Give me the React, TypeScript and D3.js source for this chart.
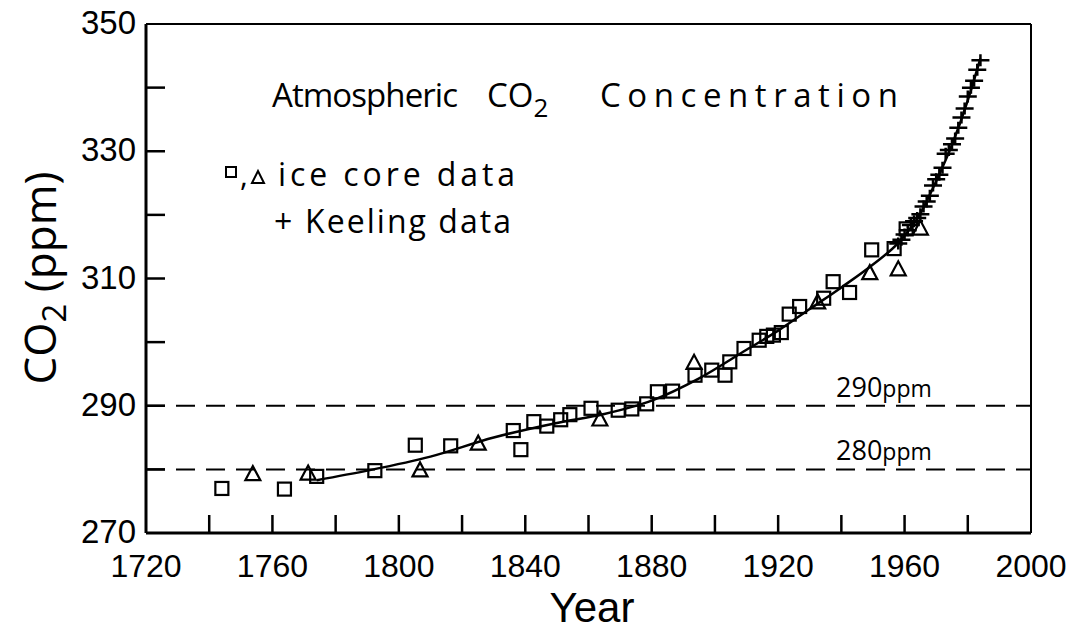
import React from "react";
import * as d3 from "d3";

const squareYears = [1744, 1763.8, 1774, 1792.4, 1805.2, 1816.4, 1836.2, 1838.6, 1842.7, 1846.8, 1851.2, 1854.1, 1860.8, 1869.4, 1873.7, 1878.4, 1881.8, 1886.6, 1893.7, 1899, 1903.2, 1904.7, 1909.2, 1914, 1916.4, 1918.5, 1921, 1923.5, 1926.8, 1934.4, 1937.4, 1942.6, 1949.6, 1956.7, 1960.5];
const squareValues = [277.0, 276.9, 278.9, 279.8, 283.8, 283.7, 286.1, 283.1, 287.5, 286.8, 287.8, 288.6, 289.6, 289.3, 289.5, 290.3, 292.2, 292.3, 294.8, 295.6, 294.8, 296.9, 299.0, 300.3, 300.9, 301.1, 301.5, 304.4, 305.6, 306.9, 309.5, 307.8, 314.5, 314.7, 317.8];

const triangleYears = [1753.8, 1771.3, 1806.7, 1825.1, 1863.6, 1893.4, 1932.5, 1949, 1958, 1965];
const triangleValues = [279.4, 279.5, 280.0, 284.2, 288.0, 296.9, 306.4, 311.0, 311.6, 318.0];

const keelingYears = [1958, 1959, 1960, 1961, 1962, 1963, 1964, 1965, 1966, 1967, 1968, 1969, 1970, 1971, 1972, 1973, 1974, 1975, 1976, 1977, 1978, 1979, 1980, 1981, 1982, 1983, 1984];
const keelingValues = [315.5, 316.1, 316.9, 317.6, 318.4, 319.0, 319.5, 320.1, 321.3, 322.1, 323.0, 324.6, 325.6, 326.3, 327.4, 329.6, 330.2, 331.1, 332.0, 333.7, 335.3, 336.7, 338.6, 340.0, 341.1, 342.8, 344.3];

const fitYears = [1774, 1790, 1810, 1830, 1850, 1865, 1880, 1895, 1910, 1920, 1930, 1940, 1950, 1958, 1965, 1970, 1975, 1980, 1984];
const fitValues = [278.3, 279.8, 282.0, 285.0, 287.3, 288.7, 290.8, 294.3, 298.8, 301.8, 305.2, 308.6, 312.2, 315.6, 320.2, 325.3, 331.0, 338.0, 344.6];

const refLevels = [290, 280];
const refLabels = ["290", "280"];

const xLabelTicks = [1720, 1760, 1800, 1840, 1880, 1920, 1960, 2000];
const xMinorTicks = [1740, 1760, 1780, 1800, 1820, 1840, 1860, 1880, 1900, 1920, 1940, 1960, 1980];
const yLabelTicks = [270, 290, 310, 330, 350];
const yMinorTicks = [280, 290, 300, 310, 320, 330, 340];

const FONT = "'Open Sans', Lato, sans-serif";
const TICKFONT = "'Liberation Sans', Arimo, sans-serif";

export default function App() {
  const x = d3.scaleLinear().domain([1720, 2000]).range([146, 1031]);
  const y = d3.scaleLinear().domain([270, 350]).range([533, 24]);
  const line = d3
    .line<number>()
    .x((d, i) => x(fitYears[i]))
    .y((d) => y(d))
    .curve(d3.curveMonotoneX);

  const sq = 13;
  const triW = 15;
  const triH = 14;
  const plusW = 18;
  const plusH = 12;

  return (
    <svg
      width={1071}
      height={632}
      style={{ position: "absolute", left: 0, top: 0, background: "#fff" }}
      fontFamily={FONT}
      fontWeight={400}
    >
      <rect x={0} y={0} width={1071} height={632} fill="#fff" />
      {/* frame */}
      <line x1={x(1720)} x2={x(2000)} y1={y(350)} y2={y(350)} stroke="#000" strokeWidth={2} />
      <line x1={x(2000)} x2={x(2000)} y1={y(350)} y2={y(270)} stroke="#000" strokeWidth={2} />
      <line x1={x(1720)} x2={x(2000)} y1={y(270)} y2={y(270)} stroke="#000" strokeWidth={3} />
      <line x1={x(1720)} x2={x(1720)} y1={y(350)} y2={y(270)} stroke="#000" strokeWidth={3} />

      {/* ticks */}
      {xMinorTicks.map((t) => (
        <line key={"xt" + t} x1={x(t)} x2={x(t)} y1={y(270)} y2={y(270) - 18} stroke="#000" strokeWidth={2.5} />
      ))}
      {yMinorTicks.map((t) => (
        <line key={"yt" + t} x1={x(1720)} x2={x(1720) + 19} y1={y(t)} y2={y(t)} stroke="#000" strokeWidth={2.5} />
      ))}
      {xLabelTicks.map((t) => (
        <text key={"xl" + t} x={x(t)} y={577} textAnchor="middle" fontSize={32} fontFamily={TICKFONT} fill="#000">
          {t}
        </text>
      ))}
      {yLabelTicks.map((t) => (
        <text key={"yl" + t} x={136} y={y(t) + 10} textAnchor="end" fontSize={33} fontFamily={TICKFONT} fill="#000">
          {t}
        </text>
      ))}

      {/* axis titles */}
      <text x={592} y={622} textAnchor="middle" fontSize={42} fontFamily={TICKFONT} fill="#000">
        Year
      </text>
      <text transform={`translate(56,278) rotate(-90)`} textAnchor="middle" fontSize={44} fill="#000">
        CO
        <tspan fontSize={33} dy={10}>2</tspan>
        <tspan dy={-10}> (ppm)</tspan>
      </text>

      {/* reference lines */}
      {refLevels.map((v, i) => (
        <g key={"ref" + v}>
          <line x1={x(1720)} x2={x(2000)} y1={y(v)} y2={y(v)} stroke="#000" strokeWidth={2} strokeDasharray="19,11" />
          <text x={836} y={y(v) - 9} fontSize={27} fill="#000">
            {refLabels[i]}
            <tspan fontSize={23}>ppm</tspan>
          </text>
        </g>
      ))}

      {/* title */}
      <text x={272} y={107} fontSize={33} fill="#000" textLength={186} lengthAdjust="spacing">
        Atmospheric
      </text>
      <text x={487} y={107} fontSize={33} fill="#000">
        CO<tspan fontSize={26} dy={10}>2</tspan>
      </text>
      <text x={600} y={107} fontSize={33} fill="#000" textLength={298} lengthAdjust="spacing">
        Concentration
      </text>

      {/* legend */}
      <rect x={226} y={167} width={10} height={10} fill="none" stroke="#000" strokeWidth={2} />
      <text x={240} y={186} fontSize={30} fill="#000">,</text>
      <path d="M252,183 L258,171 L264,183 Z" fill="none" stroke="#000" strokeWidth={2} />
      <text x={278} y={186} fontSize={32} fill="#000" textLength={237} lengthAdjust="spacing">
        ice core data
      </text>
      <text x={274} y={233} fontSize={32} fill="#000">+</text>
      <text x={305} y={233} fontSize={32} fill="#000" textLength={206} lengthAdjust="spacing">
        Keeling data
      </text>

      {/* fit line */}
      <path d={line(fitValues) || ""} fill="none" stroke="#000" strokeWidth={2.5} />

      {/* squares */}
      {squareValues.map((v, i) => (
        <rect
          key={"s" + i}
          x={x(squareYears[i]) - sq / 2}
          y={y(v) - sq / 2}
          width={sq}
          height={sq}
          fill="none"
          stroke="#000"
          strokeWidth={2.2}
        />
      ))}
      {/* triangles */}
      {triangleValues.map((v, i) => {
        const cx = x(triangleYears[i]);
        const cy = y(v);
        return (
          <path
            key={"t" + i}
            d={`M${cx - triW / 2},${cy + triH / 2} L${cx},${cy - triH / 2} L${cx + triW / 2},${cy + triH / 2} Z`}
            fill="none"
            stroke="#000"
            strokeWidth={2.2}
          />
        );
      })}
      {/* Keeling pluses */}
      {keelingValues.map((v, i) => {
        const cx = x(keelingYears[i]);
        const cy = y(v);
        return (
          <path
            key={"k" + i}
            d={`M${cx - plusW / 2},${cy} H${cx + plusW / 2} M${cx},${cy - plusH / 2} V${cy + plusH / 2}`}
            stroke="#000"
            strokeWidth={2.5}
          />
        );
      })}
    </svg>
  );
}
